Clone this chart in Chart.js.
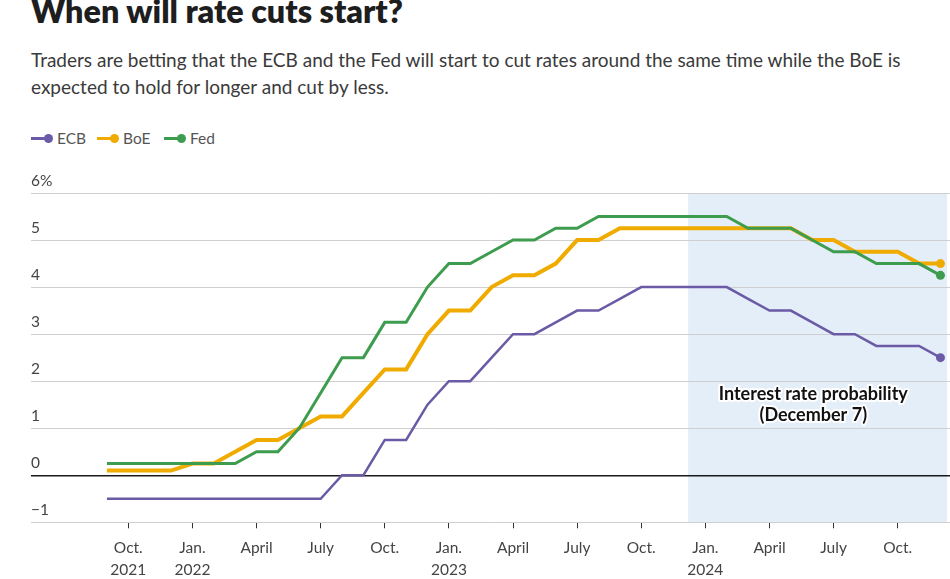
<!DOCTYPE html>
<html>
<head>
<meta charset="utf-8">
<script src="https://cdn.jsdelivr.net/npm/chart.js@4.4.0/dist/chart.umd.min.js"></script>
<style>
  body { margin: 0; background: #fff; font-family: Lato, sans-serif; }
  #wrap { position: relative; width: 950px; height: 579px; overflow: hidden; }
  #title { position: absolute; left: 31px; top: -9px; font-size: 32.3px; font-weight: 800; color: #1e1e1e; white-space: nowrap; }
  #sub { position: absolute; left: 31px; top: 46px; font-size: 19px; line-height: 27px; color: #3a3a3a; white-space: nowrap; }
  .item { position: absolute; top: 128px; height: 20px; font-size: 15.5px; color: #555; line-height: 20px; }
  .item i { position: absolute; left: 0; top: 9px; width: 16px; height: 3px; }
  .item b { position: absolute; left: 13px; top: 6px; width: 9px; height: 9px; border-radius: 50%; }
  .item span { position: absolute; left: 26px; top: 0; white-space: nowrap; }
  canvas { position: absolute; left: 0; top: 0; }
</style>
</head>
<body>
<div id="wrap">
  <div id="title">When will rate cuts start?</div>
  <div id="sub">Traders are betting that the ECB and the Fed will start to cut rates around the same time while the BoE is<br>expected to hold for longer and cut by less.</div>
  <div class="item" style="left:31px"><i style="background:#6b5aa6"></i><b style="background:#6b5aa6"></b><span>ECB</span></div>
  <div class="item" style="left:97px"><i style="background:#f0ab00"></i><b style="background:#f0ab00"></b><span>BoE</span></div>
  <div class="item" style="left:164px"><i style="background:#3d9c4e"></i><b style="background:#3d9c4e"></b><span>Fed</span></div>
  <canvas id="chart" width="950" height="579"></canvas>
</div>
<script>
// Monthly policy rates (%), Sep 2021 - Dec 2024, market pricing from Dec 2023
const dates = [
  '2021-09', '2021-10', '2021-11', '2021-12',
  '2022-01', '2022-02', '2022-03', '2022-04', '2022-05', '2022-06',
  '2022-07', '2022-08', '2022-09', '2022-10', '2022-11', '2022-12',
  '2023-01', '2023-02', '2023-03', '2023-04', '2023-05', '2023-06',
  '2023-07', '2023-08', '2023-09', '2023-10', '2023-11', '2023-12',
  '2024-01', '2024-02', '2024-03', '2024-04', '2024-05', '2024-06',
  '2024-07', '2024-08', '2024-09', '2024-10', '2024-11', '2024-12'
];
const ecb = [
  -0.5, -0.5, -0.5, -0.5,
  -0.5, -0.5, -0.5, -0.5, -0.5, -0.5, -0.5, 0, 0, 0.75, 0.75, 1.5,
  2.0, 2.0, 2.5, 3.0, 3.0, 3.25, 3.5, 3.5, 3.75, 4.0, 4.0, 4.0,
  4.0, 4.0, 3.75, 3.5, 3.5, 3.25, 3.0, 3.0, 2.75, 2.75, 2.75, 2.5
];
const boe = [
  0.1, 0.1, 0.1, 0.1,
  0.25, 0.25, 0.5, 0.75, 0.75, 1.0, 1.25, 1.25, 1.75, 2.25, 2.25, 3.0,
  3.5, 3.5, 4.0, 4.25, 4.25, 4.5, 5.0, 5.0, 5.25, 5.25, 5.25, 5.25,
  5.25, 5.25, 5.25, 5.25, 5.25, 5.0, 5.0, 4.75, 4.75, 4.75, 4.5, 4.5
];
const fed = [
  0.25, 0.25, 0.25, 0.25,
  0.25, 0.25, 0.25, 0.5, 0.5, 1.0, 1.75, 2.5, 2.5, 3.25, 3.25, 4.0,
  4.5, 4.5, 4.75, 5.0, 5.0, 5.25, 5.25, 5.5, 5.5, 5.5, 5.5, 5.5,
  5.5, 5.5, 5.25, 5.25, 5.25, 5.0, 4.75, 4.75, 4.5, 4.5, 4.5, 4.25
];
const tickDates = ['2021-10', '2022-01', '2022-04', '2022-07', '2022-10', '2023-01', '2023-04',
  '2023-07', '2023-10', '2024-01', '2024-04', '2024-07', '2024-10'];
const tickLabels = [['Oct.', '2021'], ['Jan.', '2022'], 'April', 'July', 'Oct.', ['Jan.', '2023'], 'April',
  'July', 'Oct.', ['Jan.', '2024'], 'April', 'July', 'Oct.'];
const probabilityFrom = '2023-12-07';

// months since Jan 2021 (day gives a fraction of the month)
function toMonth(s) {
  const p = s.split('-').map(Number);
  return (p[0] - 2021) * 12 + (p[1] - 1) + (p[2] ? (p[2] - 1) / 31 : 0);
}

const xs = dates.map(toMonth);
const tickValues = tickDates.map(toMonth);

function series(label, values, color, width, order) {
  const last = values.length - 1;
  return {
    label: label,
    data: values.map((v, i) => ({ x: xs[i], y: v })),
    borderColor: color,
    backgroundColor: color,
    borderWidth: width,
    pointRadius: ctx => ctx.dataIndex === last ? 4.5 : 0,
    pointBorderWidth: 0,
    tension: 0,
    order: order
  };
}

// shaded forecast box + label
const forecastBox = {
  id: 'forecastBox',
  beforeDraw(chart) {
    const { ctx, chartArea, scales } = chart;
    const x0 = scales.x.getPixelForValue(toMonth(probabilityFrom));
    ctx.save();
    ctx.fillStyle = '#e4eef8';
    ctx.fillRect(x0, chartArea.top, chartArea.right - 3 - x0, chartArea.bottom - chartArea.top);
    ctx.restore();
  },
  afterDatasetsDraw(chart) {
    const { ctx, scales } = chart;
    const cx = scales.x.getPixelForValue(41.05);
    const cy = scales.y.getPixelForValue(1.5);
    ctx.save();
    ctx.font = 'bold 18px Lato, sans-serif';
    ctx.textAlign = 'center';
    ctx.textBaseline = 'middle';
    ctx.lineJoin = 'round';
    ctx.strokeStyle = '#fff';
    ctx.lineWidth = 4;
    ctx.fillStyle = '#111';
    [['Interest rate probability', cy - 10.5], ['(December 7)', cy + 10.5]].forEach(t => {
      ctx.strokeText(t[0], cx, t[1]);
      ctx.fillText(t[0], cx, t[1]);
    });
    ctx.restore();
  }
};

new Chart(document.getElementById('chart'), {
  type: 'line',
  data: {
    datasets: [
      series('ECB', ecb, '#6b5aa6', 2.5, 2),
      series('BoE', boe, '#f0ab00', 4, 1),
      series('Fed', fed, '#3d9c4e', 3, 0)
    ]
  },
  options: {
    responsive: false,
    animation: false,
    devicePixelRatio: 1,
    layout: { autoPadding: false, padding: { left: 31, top: 193, right: 0, bottom: 0 } },
    plugins: { legend: { display: false }, tooltip: { enabled: false } },
    scales: {
      x: {
        type: 'linear',
        min: 4.447,
        max: 47.447,
        afterFit(scale) { scale.height = 56.7; },
        afterBuildTicks(scale) { scale.ticks = tickValues.map(v => ({ value: v })); },
        border: { display: false },
        grid: { drawOnChartArea: false, drawTicks: true, tickLength: 6, tickColor: '#333', lineWidth: 1 },
        ticks: {
          autoSkip: false,
          maxRotation: 0,
          padding: 9,
          color: '#444',
          font: { family: 'Lato, sans-serif', size: 15.5, lineHeight: '22px' },
          callback: v => tickLabels[tickValues.indexOf(v)]
        }
      },
      y: {
        min: -1,
        max: 6,
        afterFit(scale) { scale.width = 0; },
        border: { display: false },
        grid: {
          drawTicks: false,
          color: ctx => ctx.tick.value === 0 ? '#1a1a1a' : '#cfcfcf',
          lineWidth: ctx => ctx.tick.value === 0 ? 1.5 : 1
        },
        ticks: {
          stepSize: 1,
          mirror: true,
          padding: 0,
          labelOffset: -12,
          color: '#444',
          font: { family: 'Lato, sans-serif', size: 15.5 },
          callback: v => v === 6 ? '6%' : (v < 0 ? '\u2212' + Math.abs(v) : v)
        }
      }
    }
  },
  plugins: [forecastBox]
});
</script>
</body>
</html>
